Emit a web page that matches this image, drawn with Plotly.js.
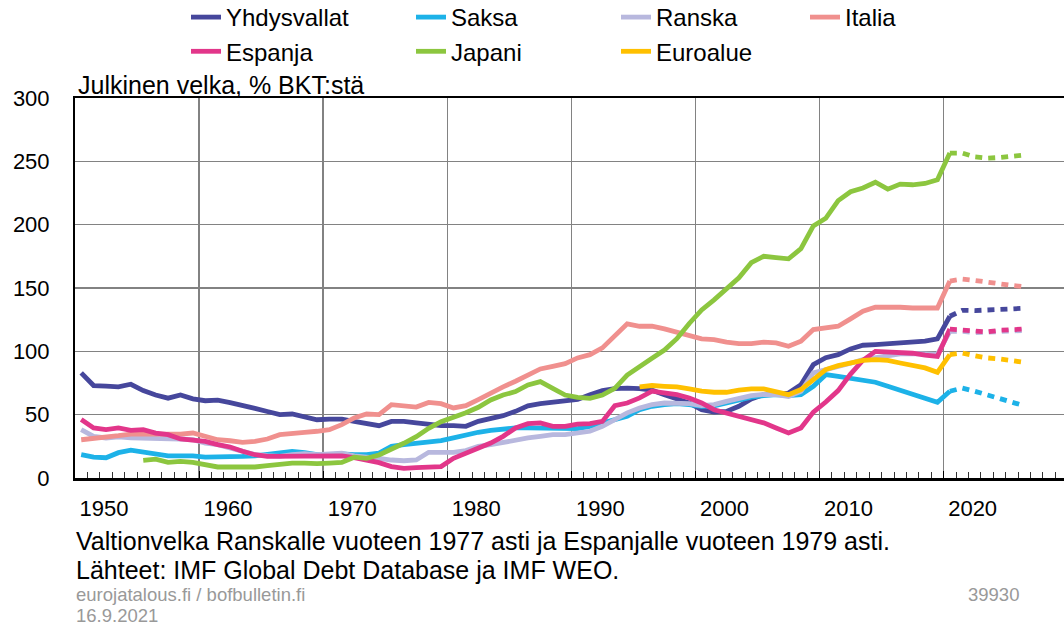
<!DOCTYPE html>
<html>
<head>
<meta charset="utf-8">
<script src="https://cdn.plot.ly/plotly-3.0.1.min.js"></script>
<style>
  html, body { margin: 0; padding: 0; background: #ffffff; }
  #chart { width: 1064px; height: 625px; }
</style>
</head>
<body>
<div id="chart"></div>
<script>
// Years 1950..2020 (actual) and 2020..2026 (IMF WEO projection)
const years = [];
for (let y = 1950; y <= 2020; y++) years.push(y);
const projYears = [2020, 2021, 2022, 2023, 2024, 2025, 2026];

const decadeTicks = [1950, 1960, 1970, 1980, 1990, 2000, 2010, 2020];
const decadeLabels = ['1950', '1960', '1970', '1980', '1990', '2000', '2010', '2020'];

// Julkinen velka, % BKT:stä
const yhdysvallat = [
  83, 73, 72.5, 72, 74, 69, 65.5, 63, 65.5, 62.5,
  61, 61.5, 59.5, 57.5, 55, 52.5, 50, 50.5, 48, 46,
  46.5, 46.5, 44.7, 42.9, 41.3, 44.7, 44.7, 43.5, 42, 41.3,
  41.3, 40.8, 44.7, 46.6, 49.2, 52.6, 57, 58.7, 60, 60.5,
  62, 65.8, 69, 70.5, 71, 70.5, 69.3, 65.8, 62.4, 59.2,
  54, 52, 52.6, 56.6, 62.4, 65.8, 65.8, 67.1, 73.7, 89.5,
  95, 97.4, 101.9, 104.8, 105.3, 105.8, 107.2, 107.2, 108, 109.8, 127.7
];
const yhdysvallatProj = [127.7, 132.4, 132.2, 132.4, 133, 133.5, 134];

const saksa = [
  18.5, 16.5, 16, 20, 22, 20.5, 18.5, 17.5, 17.5, 17.5,
  16.5, 16.5, 16.5, 17, 17.5, 18.5, 20, 21, 20, 18.5,
  18.5, 19, 18.5, 18.5, 19.7, 25, 26.3, 27.1, 28.2, 29.5,
  31.6, 34.2, 36.1, 37.6, 38.7, 39.5, 39.5, 39.5, 39.5, 38.7,
  39, 40.8, 43.5, 46.1, 48.7, 53.9, 56.6, 57.9, 58.7, 57.9,
  56.6, 57, 59.2, 61.3, 63.9, 65, 65.8, 65, 65.8, 72.4,
  81.6, 80.3, 79, 77.7, 75.6, 72.4, 69.3, 66.3, 63.2, 59.8, 68.5
];
const saksaProj = [68.5, 71, 68.5, 65.8, 63.2, 60.5, 57];

const ranska = [
  38.2, 32.9, 31.6, 32.4, 31.6, 31.6, 30.8, 30.8, 30.8, 30.2,
  27.6, 26.3, 23.7, 21.1, 18.4, 17.6, 17.1, 18.4, 19.2, 18.4,
  19, 19.7, 17.4, 16.8, 15.5, 14.2, 13.6, 14.2, 20.3, 20.3,
  20.3, 21.6, 25, 26.3, 28.2, 30.2, 31.6, 32.9, 34.2, 34.2,
  35.4, 36.9, 40.8, 46.1, 51.4, 55.3, 57.9, 59.2, 59.2, 58.7,
  57.1, 57.9, 60.5, 63.2, 65, 66, 65.8, 64.4, 68.5, 83,
  85.3, 87.8, 90.6, 93.4, 94.9, 95.6, 98, 98.3, 98, 97.6, 115.7
];
const ranskaProj = [115.7, 115.8, 114.7, 115, 115.5, 116, 116.5];

const italia = [
  30.2, 31, 32.1, 33.4, 34.7, 34.5, 34.7, 34.2, 34.7, 35.5,
  32.4, 30.2, 29.4, 28.2, 28.9, 30.8, 34.2, 34.7, 36.1, 36.9,
  38.1, 42.1, 47.4, 50.5, 50, 57.9, 57.1, 56, 59.7, 58.7,
  55.3, 57.1, 61.9, 67.1, 71.9, 76.4, 81.6, 86.1, 88.2, 90.3,
  94.8, 97.4, 102.7, 111.9, 121.7, 119.8, 119.8, 117.7, 115, 113.2,
  109.8, 109.3, 107.2, 106.1, 106.1, 107.2, 106.7, 104, 108, 117.2,
  118.5, 119.8, 125.6, 131.6, 134.8, 135, 134.8, 134.2, 134.2, 134.2, 155.5
];
const italiaProj = [155.5, 157, 156, 154.5, 153.5, 152, 151];

const espanja = [
  46.1, 39.5, 38.2, 39.5, 37.6, 38.2, 35.5, 34.2, 30.8, 29.7,
  28.9, 26.3, 24.5, 21.1, 18.4, 17.1, 17.1, 17.1, 17.6, 17.6,
  18, 17.4, 16.1, 14.2, 12.1, 9, 7.6, 8.2, 9, 9,
  15.5, 19.7, 23.7, 27.6, 32.9, 39.5, 42.9, 43.5, 40.8, 40.8,
  42.5, 42.9, 44.7, 57.1, 59.2, 63.2, 68.5, 67.1, 65.8, 63.2,
  59.2, 53.9, 51.2, 48.6, 46.1, 43.5, 39.5, 35.5, 39.5, 52,
  60, 69, 82, 93, 100, 99.5, 99, 98.5, 97, 96, 117.6
];
const espanjaProj = [117.6, 117.1, 115.8, 115.3, 116.6, 117.1, 117.6];

const japani = [
  null, null, null, null, null, 13.9, 14.9, 12.3, 13.1, 12.3,
  10.5, 8.7, 8.7, 8.7, 8.7, 9.7, 11, 11.8, 11.8, 11.3,
  11.8, 12.3, 16.4, 15.5, 18.2, 22.6, 27.4, 32.6, 39.2, 44.5,
  47.6, 51.5, 55.8, 61.6, 65.5, 68.2, 73.5, 76.1, 70.8, 65.5,
  63.7, 62.9, 65.5, 70.8, 81.3, 88.4, 94.5, 101, 110, 122,
  132.7, 140.6, 149.8, 158, 170, 175, 174, 173, 181, 199,
  205, 219, 226, 229, 233.5, 228, 232, 231.5, 232.5, 235.5, 256.5
];
const japaniProj = [256.5, 256.5, 253.5, 252.5, 253, 254, 255];

const euroalue = [
  null, null, null, null, null, null, null, null, null, null,
  null, null, null, null, null, null, null, null, null, null,
  null, null, null, null, null, null, null, null, null, null,
  null, null, null, null, null, null, null, null, null, null,
  null, null, null, null, null, 71.9, 73, 72.4, 71.9, 70.3,
  68.5, 67.7, 67.7, 69.3, 70.3, 70.3, 68.5, 65.8, 69.8, 77.7,
  85.6, 88.7, 90.8, 92.9, 93.4, 92.9, 90.8, 88.7, 86.9, 83.4, 97.4
];
const euroalueProj = [97.4, 98.7, 96.6, 94.8, 94, 92.9, 91.3];

const seriesNames = ['Yhdysvallat', 'Saksa', 'Ranska', 'Italia', 'Espanja', 'Japani', 'Euroalue'];
const seriesActual = [yhdysvallat, saksa, ranska, italia, espanja, japani, euroalue];
const seriesProj = [yhdysvallatProj, saksaProj, ranskaProj, italiaProj, espanjaProj, japaniProj, euroalueProj];
const seriesColors = ['#46479c', '#1db2e8', '#b8b8de', '#f0908e', '#e2368a', '#8cc63f', '#ffc000'];
const seriesLegend = ['legend', 'legend2', 'legend3', 'legend4', 'legend', 'legend2', 'legend3'];

// annual observations plotted at mid-year
const mid = arr => arr.map(y => y + 0.5);

const traces = [];
seriesNames.forEach((name, i) => {
  traces.push({
    type: 'scatter', mode: 'lines', name: name,
    x: mid(years), y: seriesActual[i],
    line: { color: seriesColors[i], width: 4.8 },
    legend: seriesLegend[i],
    hoverinfo: 'x+y+name'
  });
});
seriesNames.forEach((name, i) => {
  traces.push({
    type: 'scatter', mode: 'lines', name: name + ' (ennuste)',
    x: mid(projYears), y: seriesProj[i],
    line: { color: seriesColors[i], width: 4.8, dash: '7px,6px' },
    showlegend: false,
    hoverinfo: 'x+y+name'
  });
});

const FONT = 'Liberation Sans, Arial, sans-serif';
const plotLeft = 75, plotRight = 1064, plotTop = 98, plotBottom = 478;
const px = X => (X - plotLeft) / (plotRight - plotLeft);
const py = Y => (plotBottom - Y) / (plotBottom - plotTop);

const legendBase = {
  xref: 'paper', yref: 'paper',
  xanchor: 'left', yanchor: 'top',
  y: py(-5),
  orientation: 'v',
  bgcolor: 'rgba(0,0,0,0)',
  font: { family: FONT, size: 24, color: '#000' },
  itemwidth: 30,
  tracegroupgap: 0
};

const layout = {
  width: 1064, height: 625,
  margin: { l: plotLeft, r: 1064 - plotRight, t: plotTop, b: 625 - plotBottom, pad: 0, autoexpand: false },
  paper_bgcolor: '#ffffff', plot_bgcolor: '#ffffff',
  font: { family: FONT, size: 22, color: '#000' },
  showlegend: true,
  legend: Object.assign({}, legendBase, { x: px(186) }),
  legend2: Object.assign({}, legendBase, { x: px(411) }),
  legend3: Object.assign({}, legendBase, { x: px(616) }),
  legend4: Object.assign({}, legendBase, { x: px(805) }),
  xaxis: {
    range: [1950, 2029.7],
    tickmode: 'array', tickvals: decadeTicks, ticktext: decadeLabels,
    showgrid: true, gridcolor: '#828282', gridwidth: 1.5,
    showline: true, linecolor: '#000', linewidth: 2.5, mirror: true,
    ticks: 'inside', ticklen: 7, tickcolor: '#000', tickwidth: 1,
    minor: { tickmode: 'linear', tick0: 1950, dtick: 1, ticks: 'inside', ticklen: 6, tickcolor: '#333', tickwidth: 1, showgrid: false },
    ticklabelshift: 29, ticklabelstandoff: 9,
    tickfont: { family: FONT, size: 22, color: '#000' },
    zeroline: false, fixedrange: true, automargin: false
  },
  yaxis: {
    range: [0, 300], tickmode: 'linear', tick0: 0, dtick: 50,
    showgrid: true, gridcolor: '#828282', gridwidth: 1.5,
    showline: true, linecolor: '#000', linewidth: 2,
    ticks: '', ticklabelstandoff: 19,
    tickfont: { family: FONT, size: 22, color: '#000' },
    zeroline: false, fixedrange: true, automargin: false
  },
  annotations: [
    { text: 'Julkinen velka, % BKT:stä', xref: 'paper', yref: 'paper', x: px(76), y: py(85),
      xanchor: 'left', yanchor: 'middle', showarrow: false, font: { family: FONT, size: 25, color: '#000' } },
    { text: 'Valtionvelka Ranskalle vuoteen 1977 asti ja Espanjalle vuoteen 1979 asti.', xref: 'paper', yref: 'paper',
      x: px(74), y: py(541), xanchor: 'left', yanchor: 'middle', showarrow: false, font: { family: FONT, size: 25, color: '#000' } },
    { text: 'Lähteet: IMF Global Debt Database ja IMF WEO.', xref: 'paper', yref: 'paper',
      x: px(74), y: py(570), xanchor: 'left', yanchor: 'middle', showarrow: false, font: { family: FONT, size: 25, color: '#000' } },
    { text: 'eurojatalous.fi / bofbulletin.fi', xref: 'paper', yref: 'paper',
      x: px(74), y: py(594), xanchor: 'left', yanchor: 'middle', showarrow: false, font: { family: FONT, size: 18.5, color: '#999999' } },
    { text: '16.9.2021', xref: 'paper', yref: 'paper',
      x: px(74), y: py(615), xanchor: 'left', yanchor: 'middle', showarrow: false, font: { family: FONT, size: 18.5, color: '#999999' } },
    { text: '39930', xref: 'paper', yref: 'paper',
      x: px(1021), y: py(594), xanchor: 'right', yanchor: 'middle', showarrow: false, font: { family: FONT, size: 18.5, color: '#999999' } }
  ]
};

Plotly.newPlot('chart', traces, layout, { displayModeBar: false, staticPlot: true });
</script>
</body>
</html>
